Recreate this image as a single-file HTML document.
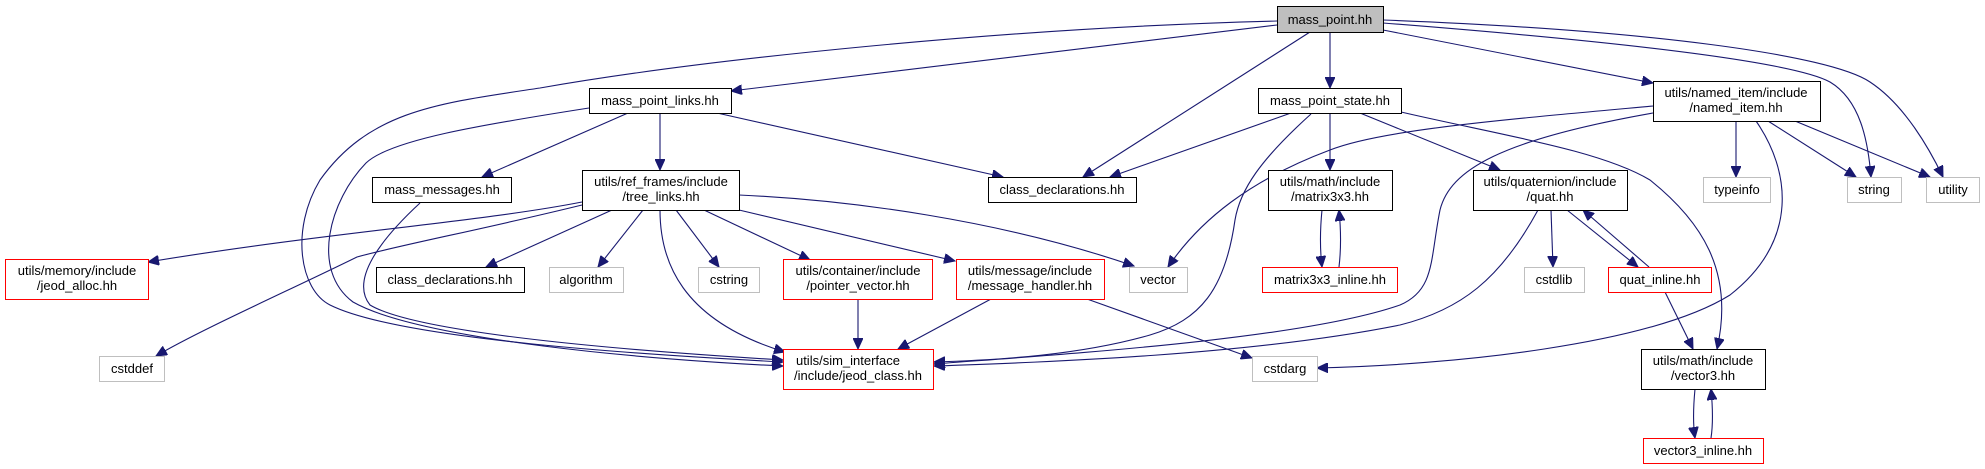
<!DOCTYPE html>
<html><head><meta charset="utf-8"><style>
body{margin:0;background:#fff}
svg{display:block}
text{font-family:"Liberation Sans",Arial,sans-serif;font-size:13px;fill:#000;text-anchor:middle}
.b{fill:#fff;stroke:#000;stroke-width:1}
.r{fill:#fff;stroke:#ff0000;stroke-width:1}
.g{fill:#fff;stroke:#bfbfbf;stroke-width:1}
.e{fill:none;stroke:#191970;stroke-width:1.1}
</style></head><body>
<svg width="1985" height="469" viewBox="0 0 1985 469" xmlns="http://www.w3.org/2000/svg">
<defs><marker id="a" markerUnits="userSpaceOnUse" markerWidth="12" markerHeight="10" refX="11" refY="5" orient="auto"><path d="M0,0 L11,5 L0,10 z" fill="#191970" stroke="#191970"/></marker></defs>
<g class="e" marker-end="url(#a)">
<path d="M1277,25 L731,91"/>
<path d="M1277,21 C1000,28 700,60 540,88 C440,103 370,110 320,180 C290,230 300,290 330,305 C400,340 650,355 783,362"/>
<path d="M1310,32 L1083,177"/>
<path d="M1330,32 L1330,88"/>
<path d="M1383,30 L1653,83"/>
<path d="M1383,23 C1600,40 1790,60 1830,82 C1860,100 1868,140 1871,177"/>
<path d="M1383,20 C1650,30 1830,55 1870,82 C1905,105 1930,150 1943,177"/>
<path d="M628,113 L482,177"/>
<path d="M660,113 L660,170"/>
<path d="M717,113 L1003,177"/>
<path d="M589,108 C480,125 390,140 366,163 C330,200 310,270 353,302 C420,340 650,360 783,366"/>
<path d="M420,203 C380,240 350,280 370,305 C420,335 650,352 783,360"/>
<path d="M582,202 C480,222 330,232 148,262"/>
<path d="M582,205 C480,230 400,245 357,257 C290,290 200,330 156,356"/>
<path d="M612,210 L486,267"/>
<path d="M643,210 L598,267"/>
<path d="M676,210 L719,267"/>
<path d="M704,210 L810,260"/>
<path d="M739,210 L955,261"/>
<path d="M739,195 C850,200 1000,220 1134,266"/>
<path d="M660,210 C660,260 680,320 785,352"/>
<path d="M858,299 L858,349"/>
<path d="M991,299 L898,349"/>
<path d="M1087,299 L1252,358"/>
<path d="M1291,113 L1110,177"/>
<path d="M1311,114 C1260,160 1240,190 1235,220 C1225,290 1200,320 1150,335 C1080,355 1000,360 934,362"/>
<path d="M1330,113 L1330,170"/>
<path d="M1360,113 L1500,170"/>
<path d="M1401,112 C1500,135 1600,150 1650,180 C1700,220 1735,270 1717,349"/>
<path d="M1322,210 C1320,230 1320,250 1322,267"/>
<path d="M1339,267 C1341,250 1341,230 1339,210"/>
<path d="M1653,106 C1500,120 1380,130 1330,150 C1250,180 1200,220 1168,267"/>
<path d="M1653,113 C1500,140 1450,170 1440,210 C1430,260 1435,290 1400,305 C1300,340 1050,355 934,364"/>
<path d="M1736,121 L1736,177"/>
<path d="M1768,121 L1856,177"/>
<path d="M1795,121 L1930,177"/>
<path d="M1756,121 C1790,170 1800,240 1730,295 C1650,345 1450,365 1317,368"/>
<path d="M1538,210 C1500,280 1460,310 1400,325 C1250,355 1050,362 934,366"/>
<path d="M1551,210 L1553,267"/>
<path d="M1567,210 L1638,267"/>
<path d="M1649,267 L1583,210"/>
<path d="M1665,292 L1693,349"/>
<path d="M1695,389 C1693,410 1693,425 1695,438"/>
<path d="M1711,438 C1713,425 1713,410 1711,389"/>
</g>
<rect x="1277.5" y="6.5" width="106" height="26" fill="#bfbfbf" stroke="#000"/><text x="1330" y="24">mass_point.hh</text>
<rect class="b" x="589.5" y="88.5" width="142" height="25"/><text x="660" y="105">mass_point_links.hh</text>
<rect class="b" x="1258.5" y="88.5" width="143" height="25"/><text x="1330" y="105">mass_point_state.hh</text>
<rect class="b" x="1653.5" y="81.5" width="167" height="40"/><text x="1736" y="97">utils/named_item/include</text><text x="1736" y="112">/named_item.hh</text>
<rect class="b" x="372.5" y="177.5" width="139" height="25"/><text x="442" y="194">mass_messages.hh</text>
<rect class="b" x="582.5" y="170.5" width="157" height="40"/><text x="661" y="186">utils/ref_frames/include</text><text x="661" y="201">/tree_links.hh</text>
<rect class="b" x="988.5" y="177.5" width="148" height="25"/><text x="1062" y="194">class_declarations.hh</text>
<rect class="b" x="1268.5" y="170.5" width="124" height="40"/><text x="1330" y="186">utils/math/include</text><text x="1330" y="201">/matrix3x3.hh</text>
<rect class="b" x="1473.5" y="170.5" width="154" height="40"/><text x="1550" y="186">utils/quaternion/include</text><text x="1550" y="201">/quat.hh</text>
<rect class="g" x="1703.5" y="177.5" width="67" height="25"/><text x="1737" y="194">typeinfo</text>
<rect class="g" x="1847.5" y="177.5" width="54" height="25"/><text x="1874" y="194">string</text>
<rect class="g" x="1926.5" y="177.5" width="53" height="25"/><text x="1953" y="194">utility</text>
<rect class="r" x="5.5" y="259.5" width="143" height="40"/><text x="77" y="275">utils/memory/include</text><text x="77" y="290">/jeod_alloc.hh</text>
<rect class="b" x="376.5" y="267.5" width="148" height="25"/><text x="450" y="284">class_declarations.hh</text>
<rect class="g" x="549.5" y="267.5" width="74" height="25"/><text x="586" y="284">algorithm</text>
<rect class="g" x="698.5" y="267.5" width="61" height="25"/><text x="729" y="284">cstring</text>
<rect class="r" x="783.5" y="259.5" width="149" height="40"/><text x="858" y="275">utils/container/include</text><text x="858" y="290">/pointer_vector.hh</text>
<rect class="r" x="956.5" y="259.5" width="148" height="40"/><text x="1030" y="275">utils/message/include</text><text x="1030" y="290">/message_handler.hh</text>
<rect class="g" x="1129.5" y="267.5" width="58" height="25"/><text x="1158" y="284">vector</text>
<rect class="r" x="1262.5" y="267.5" width="135" height="25"/><text x="1330" y="284">matrix3x3_inline.hh</text>
<rect class="g" x="1524.5" y="267.5" width="60" height="25"/><text x="1554" y="284">cstdlib</text>
<rect class="r" x="1608.5" y="267.5" width="103" height="25"/><text x="1660" y="284">quat_inline.hh</text>
<rect class="g" x="99.5" y="356.5" width="65" height="25"/><text x="132" y="373">cstddef</text>
<rect class="r" x="783.5" y="349.5" width="150" height="40"/><text x="848" y="365">utils/sim_interface</text><text x="858" y="380">/include/jeod_class.hh</text>
<rect class="g" x="1252.5" y="356.5" width="65" height="25"/><text x="1285" y="373">cstdarg</text>
<rect class="b" x="1641.5" y="349.5" width="124" height="40"/><text x="1703" y="365">utils/math/include</text><text x="1703" y="380">/vector3.hh</text>
<rect class="r" x="1643.5" y="438.5" width="120" height="25"/><text x="1703" y="455">vector3_inline.hh</text>
</svg>
</body></html>
